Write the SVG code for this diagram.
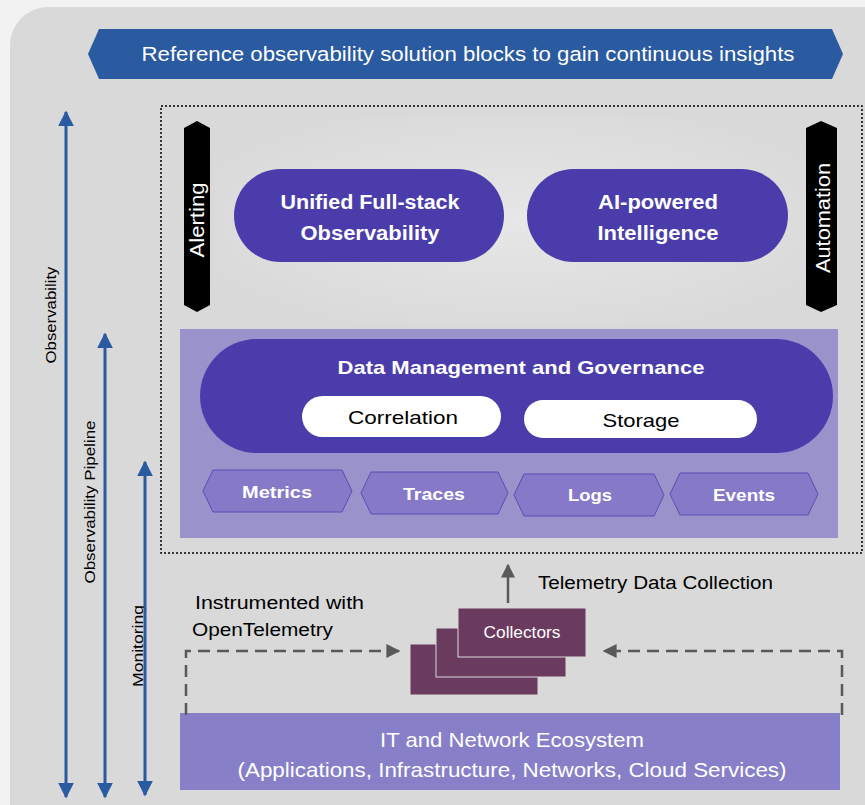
<svg xmlns="http://www.w3.org/2000/svg" width="865" height="805" viewBox="0 0 865 805">
<defs>
<style>
text{font-family:"Liberation Sans","Open Sans",Arial,sans-serif}
.w{fill:#ffffff}
.k{fill:#000000}
.b{font-weight:bold}
.pill{fill:#4a3dab}
.hex{fill:#8579c8;stroke:#5a4db6;stroke-width:1}
.blue{stroke:#2a5aa0;stroke-width:3;fill:none}
.dash{stroke:#595959;stroke-width:2.5;fill:none;stroke-dasharray:12 7}
.coll{fill:#6a3a5f;stroke:#d9d9d9;stroke-width:1}
</style>
<marker id="ab" viewBox="0 0 10 10" refX="9" refY="5" markerWidth="16" markerHeight="16" markerUnits="userSpaceOnUse" orient="auto-start-reverse">
<path d="M0,0 L10,5 L0,10 z" fill="#2a5aa0"/>
</marker>
<marker id="ag" viewBox="0 0 10 10" refX="9" refY="5" markerWidth="14" markerHeight="14" markerUnits="userSpaceOnUse" orient="auto">
<path d="M0,0 L10,5 L0,10 z" fill="#595959"/>
</marker>
<radialGradient id="glow" cx="0.5" cy="0.5" r="0.6">
<stop offset="0" stop-color="#f0f0f0"/>
<stop offset="1" stop-color="#d9d9d9"/>
</radialGradient>
</defs>
<rect x="0" y="0" width="865" height="805" fill="#f2f2f2"/>
<rect x="10" y="7" width="900" height="840" rx="38" fill="#d9d9d9"/>
<rect x="215" y="115" width="600" height="210" fill="url(#glow)" opacity="0.6"/>

<g id="banner">
<polygon points="88,54 99,29 832,29 843,54 832,79 99,79" fill="#2a5aa0"/>
<text x="468" y="61" font-size="20" class="w" text-anchor="middle" textLength="653" lengthAdjust="spacingAndGlyphs">Reference observability solution blocks to gain continuous insights</text>
</g>

<g id="frame">
<rect x="161" y="106" width="701" height="447" fill="none" stroke="#000" stroke-width="1.5" stroke-dasharray="2 2"/>
</g>

<g id="alerting">
<polygon points="197,121 210,128 210,305 197,312 184,305 184,128" fill="#000"/>
<text transform="translate(204,220) rotate(-90)" font-size="20" class="w" text-anchor="middle" textLength="75" lengthAdjust="spacingAndGlyphs">Alerting</text>
</g>
<g id="automation">
<polygon points="821,121 837,128 837,305 821,312 806,305 806,128" fill="#000"/>
<text transform="translate(830,218) rotate(-90)" font-size="20" class="w" text-anchor="middle" textLength="110" lengthAdjust="spacingAndGlyphs">Automation</text>
</g>

<g id="unified">
<rect x="234" y="169" width="270" height="93" rx="46.5" class="pill"/>
<text x="370" y="209" font-size="20" class="w b" text-anchor="middle" textLength="179" lengthAdjust="spacingAndGlyphs">Unified Full-stack</text>
<text x="370" y="240" font-size="20" class="w b" text-anchor="middle" textLength="139" lengthAdjust="spacingAndGlyphs">Observability</text>
</g>
<g id="ai">
<rect x="527" y="169" width="261" height="93" rx="46.5" class="pill"/>
<text x="658" y="209" font-size="20" class="w b" text-anchor="middle" textLength="120" lengthAdjust="spacingAndGlyphs">AI-powered</text>
<text x="658" y="240" font-size="20" class="w b" text-anchor="middle" textLength="121" lengthAdjust="spacingAndGlyphs">Intelligence</text>
</g>

<g id="data-panel">
<rect x="180" y="329" width="658" height="209" fill="#9a93cb"/>
</g>
<g id="data-mgmt">
<rect x="200" y="339" width="633" height="114" rx="57" class="pill"/>
<text x="521" y="374" font-size="19" class="w b" text-anchor="middle" textLength="367" lengthAdjust="spacingAndGlyphs">Data Management and Governance</text>
</g>
<g id="correlation">
<rect x="302" y="396" width="199" height="41" rx="20.5" fill="#fff"/>
<text x="403" y="424" font-size="19" class="k" text-anchor="middle" textLength="110" lengthAdjust="spacingAndGlyphs">Correlation</text>
</g>
<g id="storage">
<rect x="524" y="400" width="233" height="38" rx="19" fill="#fff"/>
<text x="641" y="427" font-size="19" class="k" text-anchor="middle" textLength="77" lengthAdjust="spacingAndGlyphs">Storage</text>
</g>

<g id="metrics">
<polygon points="203,491 213,470 342,470 352,491 342,512 213,512" class="hex"/>
<text x="277" y="498" font-size="17" class="w b" text-anchor="middle" textLength="70" lengthAdjust="spacingAndGlyphs">Metrics</text>
</g>
<g id="traces">
<polygon points="361,493 371,472 498,472 508,493 498,514 371,514" class="hex"/>
<text x="434" y="500" font-size="17" class="w b" text-anchor="middle" textLength="62" lengthAdjust="spacingAndGlyphs">Traces</text>
</g>
<g id="logs">
<polygon points="514,495 524,474 654,474 664,495 654,516 524,516" class="hex"/>
<text x="590" y="501" font-size="17" class="w b" text-anchor="middle" textLength="44" lengthAdjust="spacingAndGlyphs">Logs</text>
</g>
<g id="events">
<polygon points="670,494 680,473 808,473 818,494 808,515 680,515" class="hex"/>
<text x="744" y="501" font-size="17" class="w b" text-anchor="middle" textLength="62" lengthAdjust="spacingAndGlyphs">Events</text>
</g>

<g id="collectors">
<rect x="410" y="644" width="128" height="51" class="coll"/>
<rect x="436" y="628" width="130" height="49" class="coll"/>
<rect x="458" y="608" width="128" height="49" class="coll"/>
<text x="522" y="638" font-size="17" class="w" text-anchor="middle" textLength="77" lengthAdjust="spacingAndGlyphs">Collectors</text>
</g>

<g id="ecosystem">
<rect x="180" y="713" width="660" height="77" fill="#877fc8"/>
<text x="512" y="747" font-size="21" class="w" text-anchor="middle" textLength="264" lengthAdjust="spacingAndGlyphs">IT and Network Ecosystem</text>
<text x="512" y="777" font-size="21" class="w" text-anchor="middle" textLength="549" lengthAdjust="spacingAndGlyphs">(Applications, Infrastructure, Networks, Cloud Services)</text>
</g>

<g id="labels">
<text x="538" y="589" font-size="18" class="k" textLength="235" lengthAdjust="spacingAndGlyphs">Telemetry Data Collection</text>
<text x="195" y="609" font-size="18" class="k" textLength="169" lengthAdjust="spacingAndGlyphs">Instrumented with</text>
<text x="192" y="636" font-size="18" class="k" textLength="141" lengthAdjust="spacingAndGlyphs">OpenTelemetry</text>
<text transform="translate(56,315) rotate(-90)" font-size="15" class="k" text-anchor="middle" textLength="97" lengthAdjust="spacingAndGlyphs">Observability</text>
<text transform="translate(95,502) rotate(-90)" font-size="15" class="k" text-anchor="middle" textLength="163" lengthAdjust="spacingAndGlyphs">Observability  Pipeline</text>
<text transform="translate(143,646) rotate(-90)" font-size="15" class="k" text-anchor="middle" textLength="82" lengthAdjust="spacingAndGlyphs">Monitoring</text>
</g>

<g id="connectors">
<line x1="66" y1="797" x2="66" y2="112" class="blue" marker-start="url(#ab)" marker-end="url(#ab)"/>
<line x1="105" y1="797" x2="105" y2="334" class="blue" marker-start="url(#ab)" marker-end="url(#ab)"/>
<line x1="145" y1="795" x2="145" y2="462" class="blue" marker-start="url(#ab)" marker-end="url(#ab)"/>
<line x1="508" y1="603" x2="508" y2="565" stroke="#595959" stroke-width="2.5" marker-end="url(#ag)"/>
<polyline points="186,715 186,651 399,651" class="dash" marker-end="url(#ag)"/>
<polyline points="842,715 842,651 604,651" class="dash" marker-end="url(#ag)"/>
</g>
</svg>
